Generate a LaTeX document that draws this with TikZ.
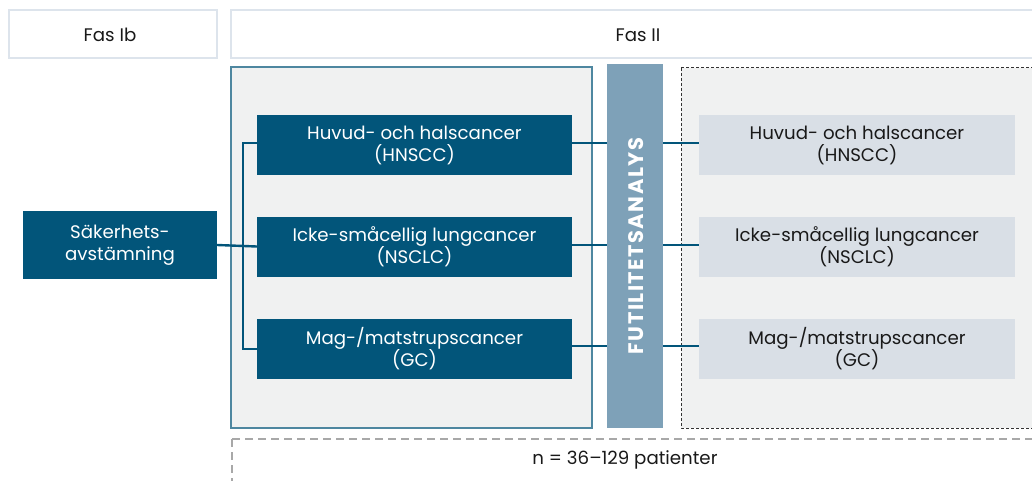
\documentclass[tikz,border=0pt]{standalone}
\usepackage{fontspec}
\setmainfont{Poppins}
\definecolor{darkb}{HTML}{02557A}
\definecolor{barb}{HTML}{7EA1B8}
\definecolor{panel}{HTML}{F0F1F1}
\definecolor{lightb}{HTML}{D9DFE6}
\definecolor{headb}{HTML}{DDE4EC}
\definecolor{edgeb}{HTML}{4E87A0}
\definecolor{dashg}{HTML}{A8A8A8}
\tikzset{
  header/.style={draw=headb, line width=2pt, fill=white},
  darkbox/.style={fill=darkb, text=white, minimum width=315pt, minimum height=60pt, inner sep=0pt, align=center, font=\fontsize{18.2}{22}\selectfont},
  lightbox/.style={fill=lightb, text=black!90, minimum width=316pt, minimum height=60pt, inner sep=0pt, align=center, font=\fontsize{18.2}{22}\selectfont},
  conn/.style={draw=darkb, line width=2.4pt},
  lbl/.style={font=\fontsize{18.2}{22}\selectfont, text=black!90}
}
\begin{document}
\begin{tikzpicture}[x=1pt,y=-1pt]
\clip (0,0) rectangle (1032,481);
\useasboundingbox (0,0) rectangle (1032,481);
% headers
\draw[header] (9,10) rectangle (217,58);
\node[lbl] (fasib) at (110,35) {Fas Ib};
\draw[header] (231,10) rectangle (1045,58);
\node[lbl] (fasii) at (638,35) {Fas II};
% panels
\draw[fill=panel, draw=edgeb, line width=1.3pt] (231,67) rectangle (592,428);
\draw[fill=panel, draw=black!80, line width=1pt, dash pattern=on 3pt off 2pt] (681,68) rectangle (1045,428);
% bar
\fill[barb] (607,64) rectangle (663,428);
\node[rotate=90, text=white, font=\fontsize{21}{24}\selectfont\bfseries\addfontfeature{LetterSpace=7}] (fut) at (636,246) {FUTILITETSANALYS};
% bottom dashed
\draw[draw=dashg, line width=2pt, dash pattern=on 8pt off 5pt] (232,439) -- (232,490) (232,439) -- (1045,439);
\node[lbl] (npat) at (625,460) {n = 36–129 patienter};
% boxes
\node[darkbox, minimum width=194pt, minimum height=68pt] (sak) at (120,245) {Säkerhets-\\avstämning};
\node[darkbox] (d1) at (414.5,145) {Huvud- och halscancer\\(HNSCC)};
\node[darkbox] (d2) at (414.5,246.5) {Icke-småcellig lungcancer\\(NSCLC)};
\node[darkbox] (d3) at (414.5,349) {Mag-/matstrupscancer\\(GC)};
\node[lightbox] (l1) at (857,145) {Huvud- och halscancer\\(HNSCC)};
\node[lightbox] (l2) at (857,246.5) {Icke-småcellig lungcancer\\(NSCLC)};
\node[lightbox] (l3) at (857,349) {Mag-/matstrupscancer\\(GC)};
% connectors
\coordinate (br) at (243,245);
\draw[conn] (sak.east) -- (d2.west);
\draw[conn] (d1.west |- 0,143) -| (243,349) -- (d3.west |- 0,349);
\foreach \i/\y in {1/143,2/245,3/346}{
  \draw[conn] (d\i.east |- 0,\y) -- (607,\y);
  \draw[conn] (663,\y) -- (l\i.west |- 0,\y);
}
\end{tikzpicture}
\end{document}
